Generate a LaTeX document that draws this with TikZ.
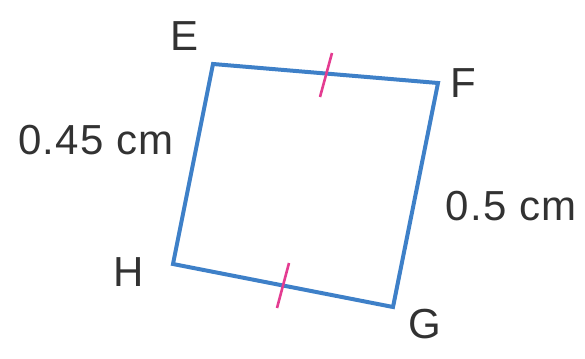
\documentclass[tikz,border=0pt]{standalone}
\usepackage{fontspec}
\setmainfont{Liberation Sans}[LetterSpace=3]
\definecolor{edgeblue}{RGB}{62,128,200}
\definecolor{tickpink}{RGB}{228,60,145}
\definecolor{labelgray}{RGB}{50,50,50}
\begin{document}
\begin{tikzpicture}[x=1pt,y=-1pt,
  edge/.style={draw=edgeblue,line width=4pt,line join=miter},
  tickmark/.style={draw=tickpink,line width=2.6pt},
  lbl/.style={text=labelgray,font=\fontsize{42}{46}\selectfont,inner sep=0pt}]
\useasboundingbox (0,0) rectangle (585,358);
\coordinate (E) at (213,64);
\coordinate (F) at (438,83);
\coordinate (G) at (393,307);
\coordinate (H) at (173,264);
\draw[edge] (E) -- (F) -- (G) -- (H) -- cycle;
\coordinate (t1a) at (332,53);
\coordinate (t1b) at (320,97);
\coordinate (t2a) at (289,263);
\coordinate (t2b) at (277,308);
\draw[tickmark] (t1a) -- (t1b);
\draw[tickmark] (t2a) -- (t2b);
\node[lbl] (lE) at (185,36) {E};
\node[lbl] (lF) at (463,83) {F};
\node[lbl] (lG) at (425,324) {G};
\node[lbl] (lH) at (129,272) {H};
\node[lbl] (l1) at (96,140) {0.45 cm};
\node[lbl] (l2) at (511,206) {0.5 cm};
\end{tikzpicture}
\end{document}
